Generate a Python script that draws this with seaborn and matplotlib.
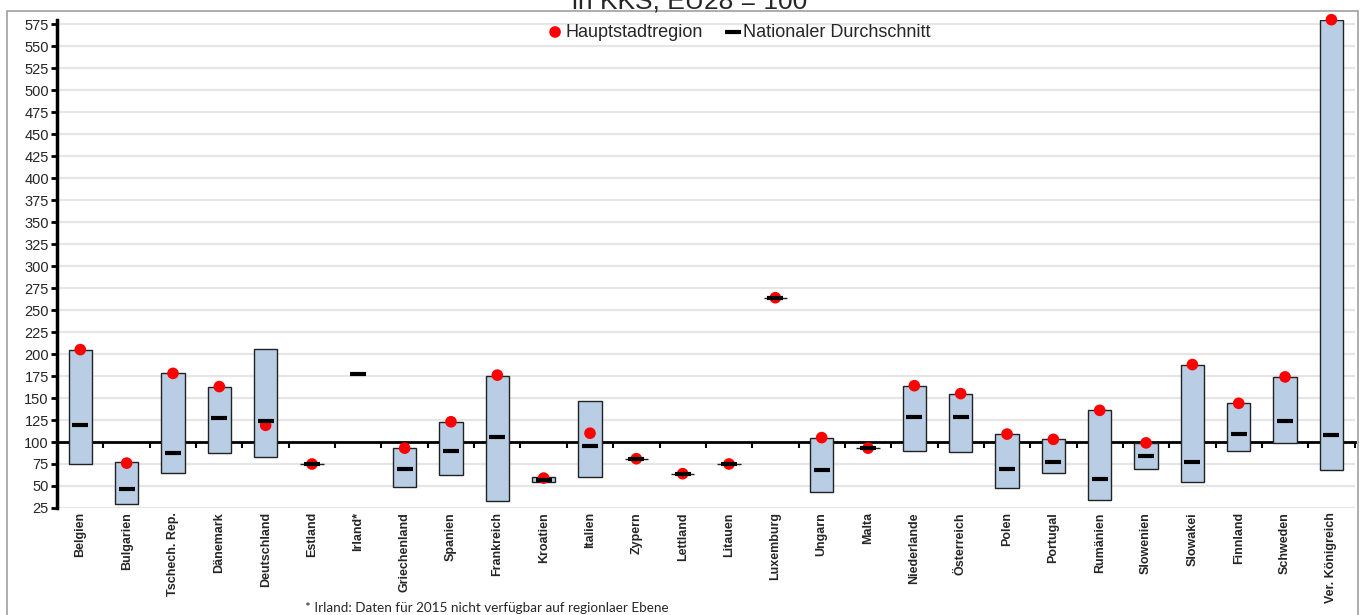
import numpy as np
import matplotlib
matplotlib.use("Agg")
import matplotlib.pyplot as plt
from matplotlib.patches import Rectangle
import seaborn as sns

nan = np.nan

countries = ["Belgien", "Bulgarien", "Tschech. Rep.", "Dänemark", "Deutschland", "Estland",
             "Irland*", "Griechenland", "Spanien", "Frankreich", "Kroatien", "Italien",
             "Zypern", "Lettland", "Litauen", "Luxemburg", "Ungarn", "Malta", "Niederlande",
             "Österreich", "Polen", "Portugal", "Rumänien", "Slowenien", "Slowakei",
             "Finnland", "Schweden", "Ver. Königreich"]

# Hauptstadtregion
capital = [205, 76, 178, 163, 119, 75, nan, 93, 123, 176, 59, 110, 81, 64, 75, 264,
           105, 93, 164, 155, 109, 103, 136, 99, 188, 144, 174, 580]
# Nationaler Durchschnitt
national = [119, 47, 87, 127, 124, 75, 177, 69, 90, 106, 57, 96, 81, 64, 75, 264,
            68, 93, 128, 128, 69, 77, 58, 84, 77, 109, 124, 108]
# Spanne der Regionen (min / max)
region_min = [75, 30, 65, 87, 83, 75, nan, 49, 63, 33, 55, 60, 81, 64, 75, 264,
              43, 93, 90, 89, 48, 65, 34, 69, 54, 90, 99, 68]
region_max = [205, 77, 178, 163, 206, 75, nan, 93, 123, 175, 60, 147, 81, 64, 75, 264,
              105, 93, 164, 155, 109, 103, 136, 99, 188, 144, 174, 580]

sns.set_theme(style="white")
plt.rcParams["font.family"] = ["Liberation Sans", "DejaVu Sans"]

fig = plt.figure(figsize=(13.6, 6.15), dpi=100)
ax = fig.add_axes([0.042, 0.174, 0.954, 0.794])

xpos = np.arange(len(countries))
lo = np.array(region_min, dtype=float)
hi = np.array(region_max, dtype=float)
ax.bar(xpos, hi - lo, bottom=lo, width=0.5, color="#b9cde5", edgecolor="#222222",
       linewidth=1.0, zorder=3)

sns.scatterplot(x=xpos, y=capital, ax=ax, color="#ff0000", edgecolor="none", s=70,
                marker="o", zorder=4, label="Hauptstadtregion", clip_on=False)
sns.scatterplot(x=xpos, y=national, ax=ax, color="black", edgecolor="black", s=130,
                marker="_", linewidth=3, zorder=5, label="Nationaler Durchschnitt")

# spines first: set_position resets the ticks
for side in ["right", "bottom"]:
    ax.spines[side].set_visible(False)
ax.spines["left"].set_linewidth(2.5)
ax.spines["left"].set_color("black")
ax.spines["top"].set_position(("data", 100))
ax.spines["top"].set_linewidth(2)
ax.spines["top"].set_color("black")

ax.set_xlim(-0.5, len(countries) - 0.5)
ax.set_ylim(25, 580)
ax.set_yticks(range(25, 576, 25))
ax.yaxis.grid(True, color="#e6e6e6", linewidth=1.6)
ax.set_axisbelow(True)

ax.set_xticks(xpos)
ax.set_xticks(np.arange(0.5, len(countries), 1), minor=True)
ax.tick_params(axis="x", which="major", bottom=False, top=False, labelbottom=True,
               labeltop=False, length=0, pad=3, labelrotation=90, labelsize=9)
ax.tick_params(axis="x", which="minor", bottom=False, top=True, direction="in",
               length=4, width=1.5, color="black")
ax.tick_params(axis="y", left=True, direction="out", length=4, width=2,
               color="black", labelsize=10.5, pad=2)
ax.set_xticklabels(countries, fontweight="bold", va="top")

ax.legend(loc="upper center", bbox_to_anchor=(0.525, 1.025), ncol=2, frameon=False,
          fontsize=13, handletextpad=0.05, columnspacing=1.2, handlelength=1.0)

# Rahmen und Titel
fig.patches.append(Rectangle((0.005, -0.02), 0.9935, 1.0026, transform=fig.transFigure,
                             fill=False, edgecolor="#a0a0a0", linewidth=1.2))
fig.text(0.507, 1 - 8 / 615, "in KKS, EU28 = 100", ha="center", va="baseline",
         fontsize=19)
fig.text(305 / 1360, 1 - 612 / 615, "* Irland: Daten für 2015 nicht verfügbar auf regionlaer Ebene",
         ha="left", va="baseline", fontsize=9.7, family=["Lato", "DejaVu Sans"])

fig.savefig("out.png", dpi=100)
